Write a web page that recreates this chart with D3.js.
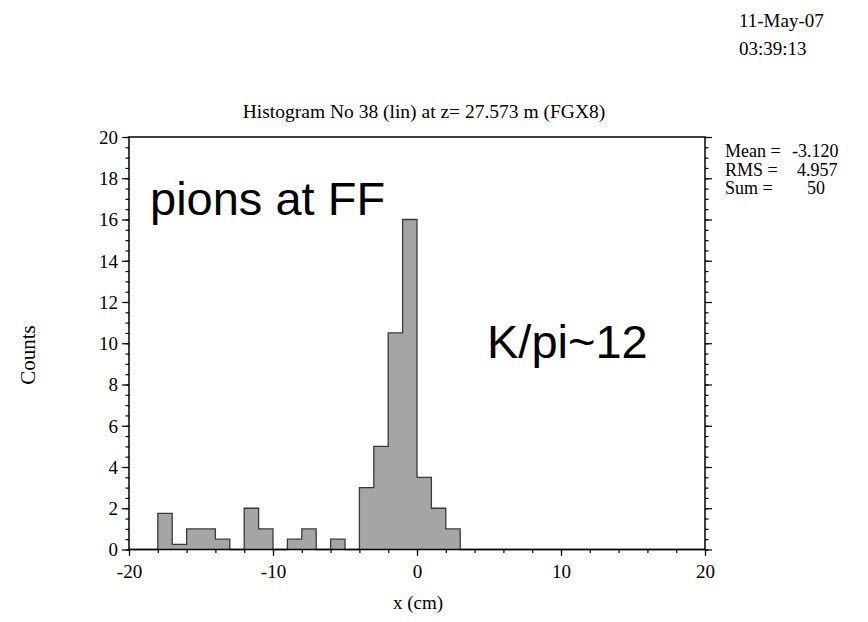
<!DOCTYPE html>
<html>
<head>
<meta charset="utf-8">
<script src="https://cdn.jsdelivr.net/npm/d3@7"></script>
<style>
  body { margin: 0; background: #fff; }
  svg { display: block; }
  .serif { font-family: "Liberation Serif", "Times New Roman", serif; }
  .sans { font-family: "Liberation Sans", Arial, sans-serif; }
</style>
</head>
<body>
<script>
// Histogram contents: lower edge of each 1 cm bin and its (weighted) count
const binLow = [-18, -17, -16, -15, -14, -13, -12, -11, -10, -9, -8, -7, -6, -5, -4, -3, -2, -1, 0, 1, 2];
const counts = [1.75, 0.25, 1, 1, 0.5, 0, 2, 1, 0, 0.5, 1, 0, 0.5, 0, 3, 5, 10.5, 16, 3.5, 2, 1];
const binWidth = 1;

// Axis ticks
const xMajorTicks = [-20, -10, 0, 10, 20];
const xMinorTicks = d3.range(-20, 20.01, 2);
const yMajorTicks = [0, 2, 4, 6, 8, 10, 12, 14, 16, 18, 20];
const yMinorTicks = d3.range(0, 20.01, 0.5);

// Header and statistics texts
const titleText = "Histogram No 38 (lin) at z= 27.573 m (FGX8)";
const dateLines = ["11-May-07", "03:39:13"];
const statNames = ["Mean =", "RMS =", "Sum ="];
const statValues = ["-3.120", "4.957", "50"];
const annotations = ["pions at FF", "K/pi~12"];

const W = 868, H = 622;
const plot = { left: 129, right: 705, top: 137, bottom: 549.5 };
const serifSize = 19;

const svg = d3.select("body").append("svg")
  .attr("width", W).attr("height", H);

const x = d3.scaleLinear().domain([-20, 20]).range([plot.left, plot.right]);
const y = d3.scaleLinear().domain([0, 20]).range([plot.bottom, plot.top]);

// Step outline points for the histogram
const pts = [[-20, 0]];
binLow.forEach((lo, i) => pts.push([lo, counts[i]]));
pts.push([binLow[binLow.length - 1] + binWidth, 0]);
pts.push([20, 0]);

const area = d3.area()
  .x(d => x(d[0])).y0(y(0)).y1(d => y(d[1]))
  .curve(d3.curveStepAfter);
const line = d3.line()
  .x(d => x(d[0])).y(d => y(d[1]))
  .curve(d3.curveStepAfter);

svg.append("path").datum(pts)
  .attr("d", area)
  .attr("fill", "#a5a5a5");
svg.append("path").datum(pts)
  .attr("d", line)
  .attr("fill", "none")
  .attr("stroke", "#3a3a3a")
  .attr("stroke-width", 1.3);

// Axes
const plain = d => String(d);   // ASCII hyphen for negatives
function styleAxis(g) {
  g.select(".domain").remove();
  g.attr("font-family", null).attr("font-size", null);
  g.selectAll("line").attr("stroke", "#000").attr("stroke-width", 1.2);
  g.selectAll("text").attr("class", "serif").attr("fill", "#000")
    .attr("font-size", serifSize);
}

svg.append("g").attr("transform", `translate(${plot.left},0)`)
  .call(d3.axisLeft(y).tickValues(yMinorTicks).tickSize(3.5).tickFormat(""))
  .call(styleAxis);
svg.append("g").attr("transform", `translate(${plot.left},0)`)
  .call(d3.axisLeft(y).tickValues(yMajorTicks).tickSize(7).tickPadding(4).tickFormat(plain))
  .call(styleAxis)
  .call(g => g.selectAll("text").attr("dy", "0.34em"));

svg.append("g").attr("transform", `translate(${plot.right},0)`)
  .call(d3.axisRight(y).tickValues(yMinorTicks).tickSize(3.5).tickFormat(""))
  .call(styleAxis);
svg.append("g").attr("transform", `translate(${plot.right},0)`)
  .call(d3.axisRight(y).tickValues(yMajorTicks).tickSize(7).tickFormat(""))
  .call(styleAxis);

svg.append("g").attr("transform", `translate(0,${plot.bottom})`)
  .call(d3.axisBottom(x).tickValues(xMinorTicks).tickSize(3.5).tickFormat(""))
  .call(styleAxis);
svg.append("g").attr("transform", `translate(0,${plot.bottom})`)
  .call(d3.axisBottom(x).tickValues(xMajorTicks).tickSize(6.5).tickPadding(8.5).tickFormat(plain))
  .call(styleAxis);

// Frame
svg.append("rect")
  .attr("x", plot.left).attr("y", plot.top)
  .attr("width", plot.right - plot.left).attr("height", plot.bottom - plot.top)
  .attr("fill", "none").attr("stroke", "#000").attr("stroke-width", 1.5);

// Title and axis titles
svg.append("text").attr("class", "serif")
  .attr("x", 424).attr("y", 118).attr("text-anchor", "middle")
  .attr("font-size", 19.5).text(titleText);

svg.append("text").attr("class", "serif")
  .attr("x", 418).attr("y", 609).attr("text-anchor", "middle")
  .attr("font-size", serifSize).text("x (cm)");

svg.append("text").attr("class", "serif")
  .attr("transform", "translate(35,355) rotate(-90)")
  .attr("text-anchor", "middle")
  .attr("font-size", 21).text("Counts");

// Date and time stamp
dateLines.forEach((t, i) => {
  svg.append("text").attr("class", "serif")
    .attr("x", 739).attr("y", 27 + i * 28)
    .attr("font-size", serifSize).text(t);
});

// Statistics box
const statValueX = [792, 797, 807];
statNames.forEach((n, i) => {
  const yy = 157 + i * 18.5;
  svg.append("text").attr("class", "serif")
    .attr("x", 725).attr("y", yy).attr("font-size", 18).text(n);
  svg.append("text").attr("class", "serif")
    .attr("x", statValueX[i]).attr("y", yy)
    .attr("font-size", 18).text(statValues[i]);
});

// Annotations
svg.append("text").attr("class", "sans")
  .attr("x", 150).attr("y", 215).attr("font-size", 47).text(annotations[0]);
svg.append("text").attr("class", "sans")
  .attr("x", 487).attr("y", 358).attr("font-size", 47).text(annotations[1]);
</script>
</body>
</html>
